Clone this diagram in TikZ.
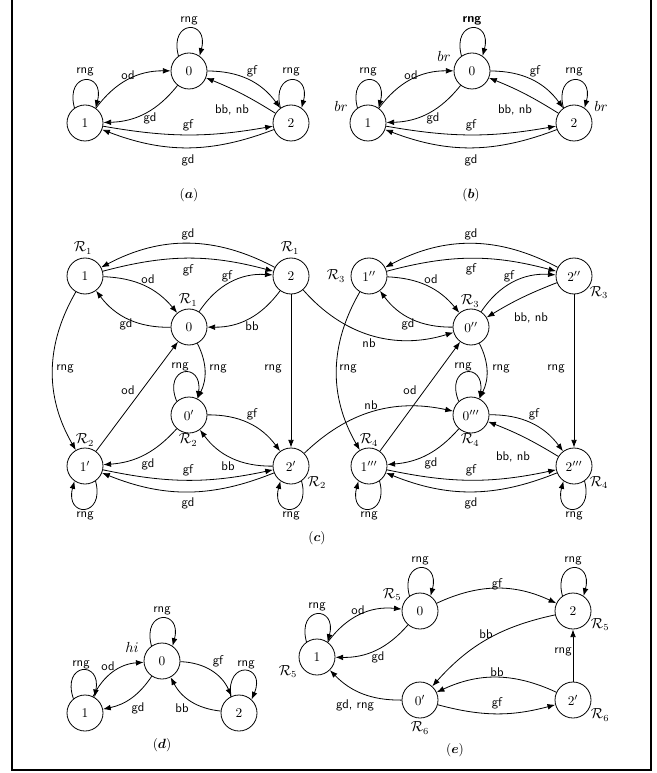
\documentclass[tikz,border=0pt]{standalone}
\usepackage{amsmath}
\usetikzlibrary{arrows.meta}
\newcommand{\myloopup}[1]{(#1.125) .. controls +(105:38) and +(75:38) .. (#1.55)}
\newcommand{\myloopdn}[1]{(#1.-55) .. controls +(-75:38) and +(-105:38) .. (#1.-125)}
\begin{document}
\begin{tikzpicture}[x=0.75pt,y=0.75pt,
  st/.style={circle,draw,line width=0.6pt,minimum size=27pt,inner sep=0pt,font=\fontsize{10}{11}\selectfont},
  lbl/.style={font=\fontsize{9.5}{11}\sffamily,inner sep=0pt},
  arr/.style={-{Latex[length=5.8pt,width=4.3pt]},line width=0.6pt},
  rl/.style={anchor=center,inner sep=0pt,font=\fontsize{10.5}{12}\selectfont},
  captxt/.style={font=\fontsize{10}{12}\selectfont}]
\useasboundingbox (0,0) rectangle (656,-773);
\draw[line width=0.8pt] (12,5) rectangle (651,-770);

% ---------------- (a)
\node[st] (a0) at (189,-71) {0};
\node[st] (a1) at (85,-123) {1};
\node[st] (a2) at (291,-123) {2};
\draw[arr] \myloopup{a0} node[lbl] at (189,-21) {rng};
\draw[arr] \myloopup{a1} node[lbl] at (85,-72) {rng};
\draw[arr] \myloopup{a2} node[lbl] at (291,-72) {rng};
\draw[arr] (a1) to[bend left=27] (a0) node[lbl] at (128,-75) {od};
\draw[arr] (a0) to[bend left=25] (a1) node[lbl] at (150,-118) {gd};
\draw[arr] (a0) to[bend left=27] (a2) node[lbl] at (252,-71) {gf};
\draw[arr] (a2) to[bend right=5] (a0) node[lbl] at (232,-110) {bb, nb};
\draw[arr] (a1) to[bend right=10] (a2) node[lbl] at (188,-125) {gf};
\draw[arr] (a2) to[bend left=21] (a1) node[lbl] at (188,-160) {gd};
\node[captxt] (capa) at (189,-195) {$(\boldsymbol{a})$};

% ---------------- (b)
\node[st,label={[rl,label distance=9.7pt]153:$br$}] (b0) at (472,-71) {0};
\node[st,label={[rl,label distance=9.75pt]149:$br$}] (b1) at (368,-123) {1};
\node[st,label={[rl,label distance=9.75pt]31:$br$}] (b2) at (574,-123) {2};
\draw[arr] \myloopup{b0} node[lbl,font=\fontsize{9.5}{11}\sffamily\bfseries] at (472,-21) {rng};
\draw[arr] \myloopup{b1} node[lbl] at (368,-72) {rng};
\draw[arr] \myloopup{b2} node[lbl] at (574,-72) {rng};
\draw[arr] (b1) to[bend left=27] (b0) node[lbl] at (411,-75) {od};
\draw[arr] (b0) to[bend left=25] (b1) node[lbl] at (433,-118) {gd};
\draw[arr] (b0) to[bend left=27] (b2) node[lbl] at (535,-71) {gf};
\draw[arr] (b2) to[bend right=5] (b0) node[lbl] at (515,-110) {bb, nb};
\draw[arr] (b1) to[bend right=10] (b2) node[lbl] at (471,-125) {gf};
\draw[arr] (b2) to[bend left=21] (b1) node[lbl] at (471,-160) {gd};
\node[captxt] (capb) at (471,-195) {$(\boldsymbol{b})$};

% ---------------- (c) left
\node[st,label={[rl,label distance=7.2pt]94:$\mathcal{R}_1$}] (c1) at (85,-276) {$1$};
\node[st,label={[rl,label distance=7.2pt]92:$\mathcal{R}_1$}] (c2) at (291,-276) {$2$};
\node[st,label={[rl,label distance=6.45pt]92:$\mathcal{R}_1$}] (c0) at (189,-327) {$0$};
\node[st,label={[rl,label distance=4.95pt]-92:$\mathcal{R}_2$}] (c0p) at (189,-415) {$0'$};
\node[st,label={[rl,label distance=5.7pt]90:$\mathcal{R}_2$}] (c1p) at (85,-466) {$1'$};
\node[st,label={[rl,label distance=9.1pt]-32:$\mathcal{R}_2$}] (c2p) at (291,-466) {$2'$};
% (c) right
\node[st,label={[rl,label distance=10.95pt]180:$\mathcal{R}_3$}] (c1pp) at (369,-276) {$1''$};
\node[st,label={[rl,label distance=8.5pt]-33:$\mathcal{R}_3$}] (c2pp) at (574,-276) {$2''$};
\node[st,label={[rl,label distance=5.7pt]92:$\mathcal{R}_3$}] (c0pp) at (471,-327) {$0''$};
\node[st,label={[rl,label distance=4.95pt]-92:$\mathcal{R}_4$}] (c0ppp) at (471,-415) {$0'''$};
\node[st,label={[rl,label distance=5.7pt]90:$\mathcal{R}_4$}] (c1ppp) at (369,-466) {$1'''$};
\node[st,label={[rl,label distance=8.5pt]-33:$\mathcal{R}_4$}] (c2ppp) at (574,-466) {$2'''$};

\draw[arr] (c2) to[bend right=28] (c1) node[lbl] at (188,-234) {gd};
\draw[arr] (c1) to[bend left=15] (c2) node[lbl] at (188,-270) {gf};
\draw[arr] (c1) to[bend left=24] (c0) node[lbl] at (148,-279) {od};
\draw[arr] (c0) to[bend left=30] (c2) node[lbl] at (227,-276) {gf};
\draw[arr] (c0) to[bend left=27] (c1) node[lbl] at (126,-324) {gd};
\draw[arr] (c2) to[bend left=27] (c0) node[lbl] at (252,-326) {bb};
\draw[arr] (c1) to[bend right=30] (c1p) node[lbl] at (65,-369) {rng};
\draw[arr] (c0) to[bend left=27] (c0p) node[lbl] at (218,-369) {rng};
\draw[arr] (c0p.132) .. controls +(112:38) and +(82:38) .. (c0p.62) node[lbl] at (180,-367) {rng};
\draw[arr] (c2) -- (c2p) node[lbl] at (273,-369) {rng};
\draw[arr] (c1p) -- (c0) node[lbl] at (128,-390) {od};
\draw[arr] (c2) to[bend right=33] (c0pp) node[lbl] at (369,-343) {nb};
\draw[arr] (c0p) to[bend left=27] (c2p) node[lbl] at (252,-414) {gf};
\draw[arr] (c2p) to[bend left=27] (c0p) node[lbl] at (228,-466) {bb};
\draw[arr] (c0p) to[bend left=22] (c1p) node[lbl] at (148,-464) {gd};
\draw[arr] (c1p) to[bend right=12] (c2p) node[lbl] at (188,-470) {gf};
\draw[arr] (c2p) to[bend left=22] (c1p) node[lbl] at (188,-503) {gd};
\draw[arr] \myloopdn{c1p} node[lbl] at (85,-516) {rng};
\draw[arr] \myloopdn{c2p} node[lbl] at (291,-516) {rng};
\draw[arr] (c2p) to[bend left=28] (c0ppp) node[lbl] at (371,-405) {nb};

\draw[arr] (c2pp) to[bend right=28] (c1pp) node[lbl] at (471,-234) {gd};
\draw[arr] (c1pp) to[bend left=15] (c2pp) node[lbl] at (471,-269) {gf};
\draw[arr] (c1pp) to[bend left=24] (c0pp) node[lbl] at (431,-279) {od};
\draw[arr] (c0pp) to[bend left=30] (c2pp) node[lbl] at (509,-276) {gf};
\draw[arr] (c0pp) to[bend left=27] (c1pp) node[lbl] at (408,-324) {gd};
\draw[arr] (c2pp) to[bend right=5] (c0pp) node[lbl] at (531,-318) {bb, nb};
\draw[arr] (c1pp) to[bend right=30] (c1ppp) node[lbl] at (348,-369) {rng};
\draw[arr] (c0pp) to[bend left=27] (c0ppp) node[lbl] at (501,-369) {rng};
\draw[arr] (c0ppp.132) .. controls +(112:38) and +(82:38) .. (c0ppp.62) node[lbl] at (463,-367) {rng};
\draw[arr] (c2pp) -- (c2ppp) node[lbl] at (556,-369) {rng};
\draw[arr] (c1ppp) -- (c0pp) node[lbl] at (410,-390) {od};
\draw[arr] (c0ppp) to[bend left=27] (c2ppp) node[lbl] at (534,-414) {gf};
\draw[arr] (c2ppp) to[bend right=5] (c0ppp) node[lbl] at (513,-457) {bb, nb};
\draw[arr] (c0ppp) to[bend left=22] (c1ppp) node[lbl] at (431,-463) {gd};
\draw[arr] (c1ppp) to[bend right=12] (c2ppp) node[lbl] at (471,-470) {gf};
\draw[arr] (c2ppp) to[bend left=22] (c1ppp) node[lbl] at (471,-503) {gd};
\draw[arr] \myloopdn{c1ppp} node[lbl] at (369,-516) {rng};
\draw[arr] \myloopdn{c2ppp} node[lbl] at (574,-516) {rng};
\node[captxt] (capc) at (317,-538) {$(\boldsymbol{c})$};

% ---------------- (d)
\node[st,label={[rl,label distance=11pt]155:$hi$}] (d0) at (162,-661) {0};
\node[st] (d1) at (85,-713) {1};
\node[st] (d2) at (239,-713) {2};
\draw[arr] \myloopup{d0} node[lbl] at (162,-611) {rng};
\draw[arr] (d1.129) .. controls +(109:38) and +(79:38) .. (d1.59) node[lbl] at (81,-665) {rng};
\draw[arr] (d2.117) .. controls +(97:38) and +(67:38) .. (d2.47) node[lbl] at (246,-665) {rng};
\draw[arr] (d1) to[bend left=30] (d0) node[lbl] at (108,-666) {od};
\draw[arr] (d0) to[bend left=22] (d1) node[lbl] at (138,-708) {gd};
\draw[arr] (d0) to[bend left=32] (d2) node[lbl] at (218,-661) {gf};
\draw[arr] (d2) to[bend left=28] (d0) node[lbl] at (182,-708) {bb};
\node[captxt] (capd) at (162,-745) {$(\boldsymbol{d})$};

% ---------------- (e)
\node[st,label={[rl,label distance=10.35pt]150:$\mathcal{R}_5$}] (e0) at (420,-611) {$0$};
\node[st,label={[rl,label distance=9pt]-27:$\mathcal{R}_5$}] (e2) at (573,-611) {$2$};
\node[st,label={[rl,label distance=10.65pt]207:$\mathcal{R}_5$}] (e1) at (317,-657) {$1$};
\node[st,label={[rl,label distance=7.2pt]-90:$\mathcal{R}_6$}] (e0p) at (420,-700) {$0'$};
\node[st,label={[rl,label distance=9.4pt]-29:$\mathcal{R}_6$}] (e2p) at (573,-700) {$2'$};
\draw[arr] \myloopup{e0} node[lbl] at (420,-561) {rng};
\draw[arr] \myloopup{e2} node[lbl] at (573,-561) {rng};
\draw[arr] \myloopup{e1} node[lbl] at (317,-607) {rng};
\draw[arr] (e1) to[bend left=30] (e0) node[lbl] at (358,-610) {od};
\draw[arr] (e0) to[bend left=25] (e1) node[lbl] at (378,-657) {gd};
\draw[arr] (e0) to[bend left=25] (e2) node[lbl] at (497,-584) {gf};
\draw[arr] (e2) to[bend right=18] (e0p) node[lbl] at (486,-634) {bb};
\draw[arr] (e2p) to[bend right=25] (e0p) node[lbl] at (497,-672) {bb};
\draw[arr] (e0p) to[bend right=15] (e2p) node[lbl] at (497,-703) {gf};
\draw[arr] (e2p) -- (e2) node[lbl,anchor=east] at (572,-652) {rng};
\draw[arr] (e0p) to[bend left=23] (e1) node[lbl] at (355,-705) {gd, rng};
\node[captxt] (cape) at (455,-750) {$(\boldsymbol{e})$};
\end{tikzpicture}
\end{document}
